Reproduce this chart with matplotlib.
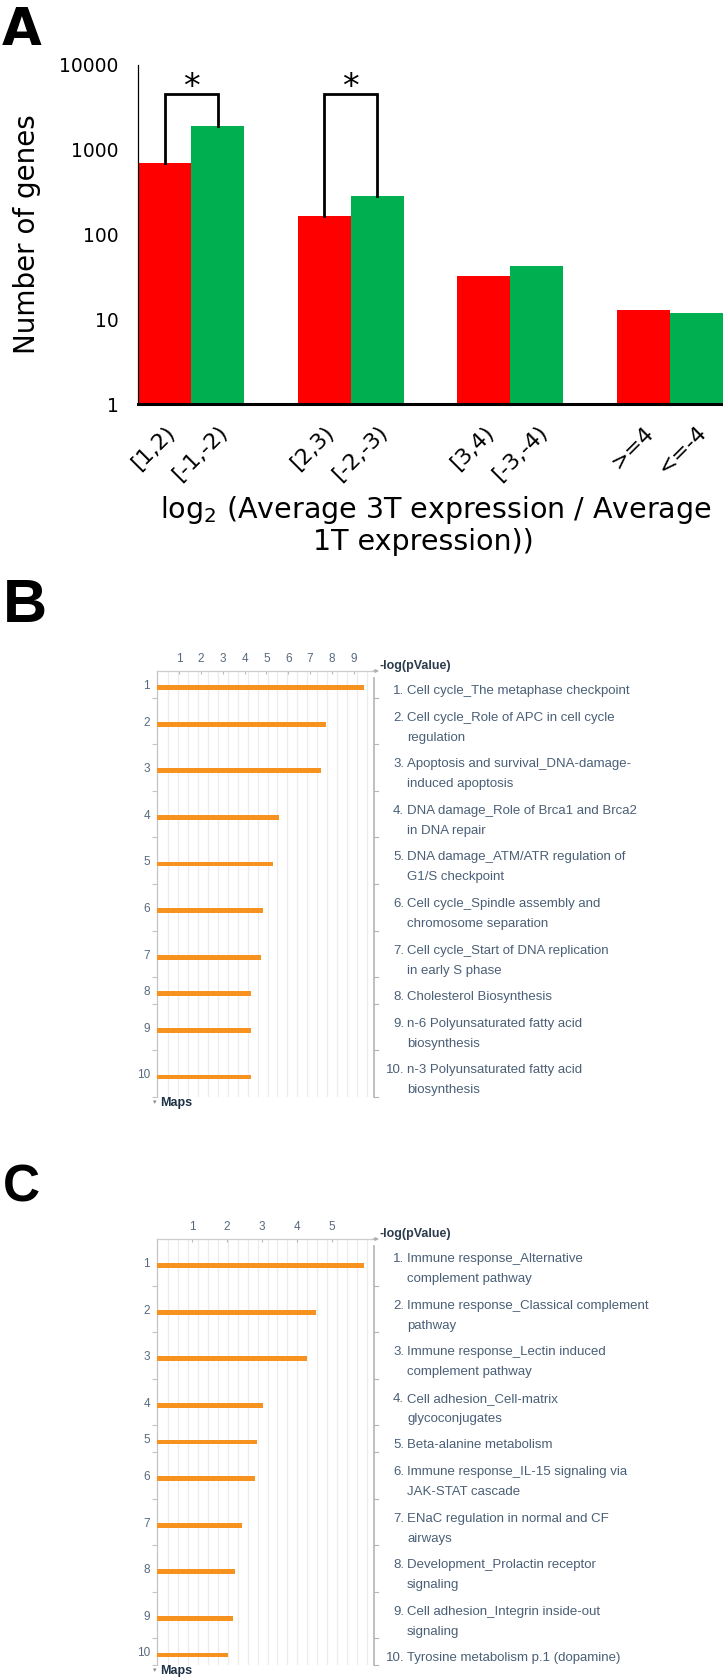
import numpy as np
import matplotlib
matplotlib.use("Agg")
import matplotlib.pyplot as plt
from matplotlib import transforms

plt.rcParams['font.family'] = ['Liberation Sans', 'DejaVu Sans']

# ---- panel A data
bin_labels = ['[1,2)', '[-1,-2)', '[2,3)', '[-2,-3)', '[3,4)', '[-3,-4)', '>=4', '<=-4']
up_counts = [690, 166, 32, 13]      # red, 3T > 1T
down_counts = [1900, 285, 43, 12]   # green, 3T < 1T
sig_groups = [0, 1]
sig_top = 4600

# ---- panel B data
mapsB = ['Cell cycle_The metaphase checkpoint',
         'Cell cycle_Role of APC in cell cycle\nregulation',
         'Apoptosis and survival_DNA-damage-\ninduced apoptosis',
         'DNA damage_Role of Brca1 and Brca2\nin DNA repair',
         'DNA damage_ATM/ATR regulation of\nG1/S checkpoint',
         'Cell cycle_Spindle assembly and\nchromosome separation',
         'Cell cycle_Start of DNA replication\nin early S phase',
         'Cholesterol Biosynthesis',
         'n-6 Polyunsaturated fatty acid\nbiosynthesis',
         'n-3 Polyunsaturated fatty acid\nbiosynthesis']
pvalB = [9.46, 7.74, 7.49, 5.56, 5.30, 4.83, 4.74, 4.28, 4.28, 4.28]
ticksB = [1, 2, 3, 4, 5, 6, 7, 8, 9]

# ---- panel C data
mapsC = ['Immune response_Alternative\ncomplement pathway',
         'Immune response_Classical complement\npathway',
         'Immune response_Lectin induced\ncomplement pathway',
         'Cell adhesion_Cell-matrix\nglycoconjugates',
         'Beta-alanine metabolism',
         'Immune response_IL-15 signaling via\nJAK-STAT cascade',
         'ENaC regulation in normal and CF\nairways',
         'Development_Prolactin receptor\nsignaling',
         'Cell adhesion_Integrin inside-out\nsignaling',
         'Tyrosine metabolism p.1 (dopamine)']
pvalC = [5.92, 4.55, 4.29, 3.03, 2.87, 2.79, 2.43, 2.23, 2.18, 2.03]
ticksC = [1, 2, 3, 4, 5]

W, H = 723, 1678
fig = plt.figure(figsize=(W / 100, H / 100), dpi=100)


def fx(x):
    return x / W


def fy(y):
    return 1 - y / H


# ================= A =================
RED, GREEN = '#ff0000', '#00b050'
axA = fig.add_axes([fx(138), fy(404), (723 - 138) / W, (404 - 65) / H])
n = len(up_counts)
x = np.arange(n)
bw = 1 / 3
axA.bar(x - bw / 2, up_counts, bw, color=RED, zorder=1)
axA.bar(x + bw / 2, down_counts, bw, color=GREEN, zorder=1)
axA.set_yscale('log')
axA.set_ylim(1, 10000)
axA.set_xlim(-bw, n - 1 + bw)
axA.set_yticks([1, 10, 100, 1000, 10000])
axA.set_yticklabels(['1', '10', '100', '1000', '10000'], family='DejaVu Sans', fontsize=13.5)
axA.yaxis.set_minor_locator(matplotlib.ticker.NullLocator())
axA.tick_params(axis='y', length=0, pad=14)
pos = np.ravel(np.column_stack([x - bw / 2, x + bw / 2]))
axA.set_xticks(pos)
axA.set_xticklabels(bin_labels, rotation=45, ha='right', rotation_mode='anchor',
                    family='DejaVu Sans', fontsize=16)
axA.tick_params(axis='x', length=0, pad=13)
for s in ['top', 'right']:
    axA.spines[s].set_visible(False)
axA.spines['left'].set_linewidth(0.9)
axA.spines['bottom'].set_linewidth(2.2)
axA.spines['bottom'].set_zorder(3)

for g in sig_groups:
    xl, xr = g - bw / 2, g + bw / 2
    axA.plot([xl, xl, xr, xr], [up_counts[g], sig_top, sig_top, down_counts[g]],
             color='black', lw=2.0, solid_joinstyle='miter', zorder=2)
    axA.annotate('*', xy=(g, sig_top), xytext=(0, -2.5), textcoords='offset points',
                 ha='center', va='baseline', fontsize=24, family='DejaVu Sans')

fig.text(fx(27), fy(234), 'Number of genes', rotation=90, ha='center', va='center',
         family='DejaVu Sans', fontsize=20)
fig.text(fx(436), fy(518), 'log$_2$ (Average 3T expression / Average', ha='center',
         va='baseline', family='DejaVu Sans', fontsize=20.5)
fig.text(fx(423), fy(550), '1T expression))', ha='center', va='baseline',
         family='DejaVu Sans', fontsize=20.5)
fig.text(fx(2), fy(45), 'A', family='DejaVu Sans', fontweight='bold', fontsize=37,
         va='baseline', ha='left')

# ================= B / C =================
TXT = '#4a5f76'
ORANGE = '#f7921e'


def pathway_panel(top, labels, vals, ticks, unit, letter, letter_y, letter_size):
    nl = [lab.count('\n') + 1 for lab in labels]
    heights = [6.6 + 20 * k for k in nl]
    tops = np.concatenate([[0], np.cumsum(heights)])
    total = tops[-1]
    bottom = top + total
    ax = fig.add_axes([fx(157), fy(bottom), (373.5 - 157) / W, total / H])
    ax.set_xlim(0, 216.5 / unit)
    ax.set_ylim(total, 0)
    bar_y = [tops[i] + 6.6 + 10 * nl[i] for i in range(len(vals))]
    ax.barh(bar_y, vals, height=4.8, color=ORANGE, zorder=3)
    for k in range(21):
        ax.axvline((11.3 + 9.92 * k) / unit, color='#ececec', lw=0.9, zorder=0)
    ax.xaxis.tick_top()
    ax.set_xticks(ticks)
    ax.tick_params(axis='x', direction='in', length=2.5, width=0.8, color='#b8b8b8',
                   labelsize=8.5, labelcolor='#56697c', pad=4)
    ax.set_yticks(tops[1:])
    ax.tick_params(axis='y', direction='out', length=3.5, width=0.8, color='#c4c4c4',
                   labelleft=False)
    for s in ['right', 'bottom']:
        ax.spines[s].set_visible(False)
    ax.spines['top'].set_color('#cdcdcd')
    ax.spines['top'].set_linewidth(0.9)
    ax.spines['left'].set_color('#c4c4c4')
    ax.spines['left'].set_linewidth(0.9)

    blend = transforms.blended_transform_factory(fig.transFigure, ax.transData)
    ax.plot([fx(374), fx(374)], [7, total], transform=blend, clip_on=False,
            color='#b4b4b4', lw=1.2)
    for b in tops[1:]:
        ax.plot([fx(374), fx(378)], [b, b], transform=blend, clip_on=False,
                color='#b4b4b4', lw=0.8)
    ax.annotate('', xy=(fx(379), fy(top)), xytext=(fx(373), fy(top)),
                xycoords='figure fraction',
                arrowprops=dict(arrowstyle='-|>', color='#b0b0b0', lw=0.8,
                                mutation_scale=5, shrinkA=0, shrinkB=0))
    fig.text(fx(380), fy(top - 5), '-log(pValue)', fontsize=9, fontweight='bold',
             color='#2c3c4d', va='center', ha='left')

    for i, lab in enumerate(labels):
        ax.text(fx(150), bar_y[i] + 1.5, str(i + 1), transform=blend, ha='right',
                va='baseline', fontsize=8.5, color='#56697c')
        lines = lab.split('\n')
        ax.text(fx(404), tops[i] + 23, '%d.' % (i + 1), transform=blend, ha='right',
                va='baseline', fontsize=9.5, color=TXT)
        for k, line in enumerate(lines):
            ax.text(fx(407), tops[i] + 23 + 20 * k, line, transform=blend, ha='left',
                    va='baseline', fontsize=9.5, color=TXT)

    fig.text(fx(155), fy(bottom + 5), '\u25be', fontsize=5, color='#8a8a8a',
             family='DejaVu Sans', ha='center', va='center')
    fig.text(fx(160.5), fy(bottom + 6), 'Maps', fontsize=9, fontweight='bold',
             color='#1f3146', ha='left', va='center')
    fig.text(fx(3), fy(letter_y), letter, fontsize=letter_size, fontweight='bold',
             va='baseline', ha='left')
    return ax


pathway_panel(671, mapsB, pvalB, ticksB, 21.875, 'B', 622, 44)
pathway_panel(1239, mapsC, pvalC, ticksC, 35.0, 'C', 1202, 37)

fig.savefig('out.png', dpi=100)
